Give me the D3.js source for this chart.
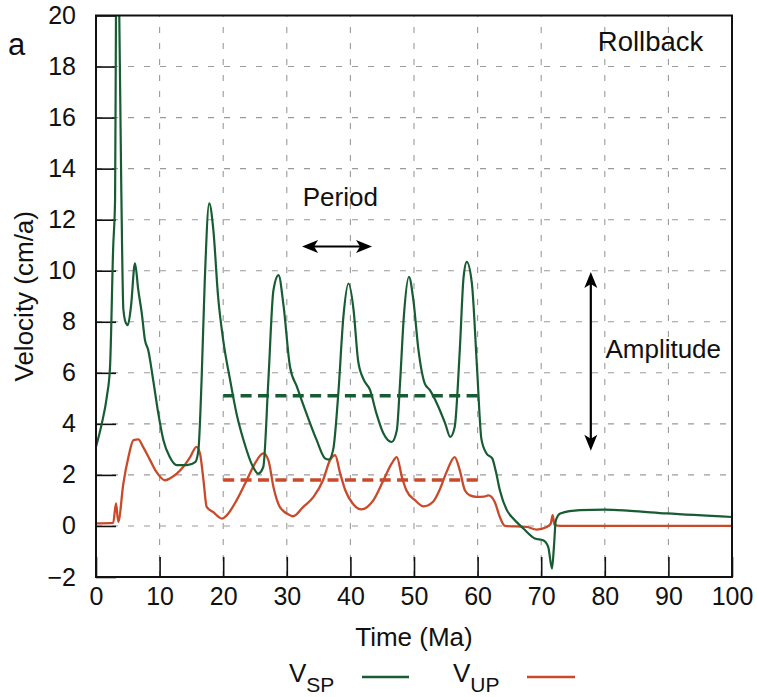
<!DOCTYPE html>
<html>
<head>
<meta charset="utf-8">
<script src="https://cdn.jsdelivr.net/npm/d3@7"></script>
<style>
  html, body { margin: 0; padding: 0; background: #fff; }
  svg { display: block; font-family: "Liberation Sans", Arial, Helvetica, sans-serif; }
</style>
</head>
<body>
<svg id="chart" width="757" height="697"></svg>
<script>
// Spreading-plate velocity V_SP (time in Ma, velocity in cm/a)
const spTime = [0, 0.9, 1.7, 2.2, 2.7, 3.0, 3.14, 3.3, 3.45, 3.55, 3.66, 4.0, 4.3, 4.7, 5.0, 5.5,
  6.13, 6.65, 7.2, 7.7, 8.2, 9.0, 9.8, 10.6, 11.6, 12.7, 14.3, 15.6, 16.1, 16.6, 17.1, 17.8,
  18.45, 19.2, 20.0, 21.1, 22.1, 23.2, 24.7, 25.5, 26.3, 27.1, 27.9, 28.7, 29.5, 30.5, 31.6,
  33.1, 34.7, 36.0, 36.6, 37.3, 38.1, 38.9, 39.7, 40.5, 41.2, 42.0, 43.1, 44.1, 45.2, 46.5,
  47.3, 47.8, 48.4, 49.2, 49.9, 50.7, 51.7, 52.5, 53.6, 54.9, 55.7, 56.4, 57.2, 57.8, 58.3,
  59.1, 59.9, 60.6, 61.4, 62.3, 62.9, 63.5, 64.6, 65.6, 67.2, 69.0, 70.3, 71.1, 71.7, 72.0,
  72.3, 73.0, 76.1, 80.0, 84.0, 89.7, 100];
const spVel = [3.1, 4.0, 5.06, 6.2, 10.9, 12.8, 20, 25, 26, 23.5, 20, 12.8, 8.5, 7.95, 7.87, 8.6,
  10.29, 9.24, 8.33, 7.28, 6.9, 5.7, 4.4, 3.36, 2.7, 2.38, 2.38, 2.5, 2.97, 5.7, 9.6, 12.64,
  11.6, 8.98, 7.28, 5.7, 4.4, 3.36, 2.31, 2.05, 2.31, 5.7, 9.24, 9.83, 8.6, 6.24, 5.45,
  4.4, 3.36, 2.65, 2.6, 3.0, 5.19, 8.2, 9.5, 8.46, 6.5, 5.78, 5.32, 4.4, 3.62, 3.29,
  3.75, 5.58, 8.2, 9.76, 8.85, 6.9, 5.58, 5.32, 4.8, 4.02, 3.49, 3.88, 6.9, 9.76, 10.35,
  9.5, 6.24, 3.4, 2.84, 2.65, 2.1, 1.4, 0.62, 0.29, -0.1, -0.49, -0.56, -0.82, -1.67, -0.82,
  0.22, 0.49, 0.62, 0.64, 0.59, 0.49, 0.35];

// Upper-plate velocity V_UP
const upTime = [0, 2.7, 3.15, 3.5, 4.3, 5.1, 5.9, 6.65, 7.4, 8.5, 9.5, 10.85, 11.6, 12.7, 13.7,
  14.8, 15.8, 16.35, 16.9, 17.4, 18.4, 19.8, 20.8, 22.1, 23.7, 25.0, 26.3, 27.1, 27.9, 28.9,
  30.5, 31.0, 32.6, 34.2, 35.7, 36.8, 37.6, 38.4, 39.2, 40.3, 41.7, 43.6, 45.2, 46.5, 47.3,
  48.1, 48.8, 50.2, 51.5, 53.0, 54.0, 55.1, 56.4, 57.2, 58.0, 58.8, 59.9, 61.0, 61.7, 62.7,
  63.5, 64.3, 67.7, 69.3, 70.9, 71.5, 71.8, 72.1, 73.0, 100];
const upVel = [0.1, 0.12, 0.88, 0.16, 1.66, 2.7, 3.36, 3.39, 3.1, 2.58, 2.12, 1.79, 1.86, 2.05, 2.31,
  2.7, 3.1, 2.84, 1.79, 0.75, 0.55, 0.29, 0.49, 1.0, 1.79, 2.45, 2.84, 2.58, 1.53, 0.75,
  0.42, 0.38, 0.75, 1.14, 1.79, 2.58, 2.77, 2.05, 1.4, 0.9, 0.65, 1.0, 1.79, 2.45, 2.7,
  1.92, 1.4, 1.0, 0.77, 0.95, 1.4, 2.1, 2.7, 2.18, 1.4, 1.2, 1.14, 1.15, 1.2, 0.94,
  0.35, 0.0, -0.04, -0.14, -0.04, 0.09, 0.42, 0.03, 0, 0];

// Mean velocities over the oscillating stage (20–60 Ma)
const meanRange = [20, 60];
const spMean = 5.1;
const upMean = 1.8;

// Axis ticks
const xTicks = [0, 10, 20, 30, 40, 50, 60, 70, 80, 90, 100];
const yTicks = [-2, 0, 2, 4, 6, 8, 10, 12, 14, 16, 18, 20];

// Annotation anchors, in data units
const periodArrow = { t0: 32.4, t1: 43.4, v: 10.95 };
const amplitudeArrow = { t: 77.8, v0: 2.95, v1: 9.95 };

const GREEN = "#175c33";
const RED = "#c94a2a";

const svg = d3.select("#chart");
const plot = { left: 96, right: 732, top: 15.5, bottom: 577 };

const x = d3.scaleLinear().domain([0, 100]).range([plot.left, plot.right]);
const y = d3.scaleLinear().domain([-2, 20]).range([plot.bottom, plot.top]);

svg.append("defs").append("clipPath").attr("id", "plotClip")
  .append("rect")
  .attr("x", plot.left).attr("y", plot.top)
  .attr("width", plot.right - plot.left).attr("height", plot.bottom - plot.top);

// Dashed grid
const grid = svg.append("g").attr("stroke", "#9a9a9a").attr("stroke-width", 1.1)
  .attr("stroke-dasharray", "6,10");
grid.selectAll("line.v").data(xTicks.slice(1, -1)).join("line")
  .attr("x1", d => x(d)).attr("x2", d => x(d))
  .attr("y1", plot.bottom).attr("y2", plot.top);
grid.selectAll("line.h").data(yTicks.slice(1, -1)).join("line")
  .attr("x1", plot.left).attr("x2", plot.right)
  .attr("y1", d => y(d)).attr("y2", d => y(d));

// Axes with inward ticks
const xAxis = svg.append("g").attr("transform", `translate(0,${plot.bottom})`)
  .call(d3.axisBottom(x).tickValues(xTicks).tickSizeInner(-20).tickSizeOuter(0).tickPadding(10));
const yAxis = svg.append("g").attr("transform", `translate(${plot.left},0)`)
  .call(d3.axisLeft(y).tickValues(yTicks).tickSizeInner(-20).tickSizeOuter(0).tickPadding(20));
[xAxis, yAxis].forEach(g => {
  g.select(".domain").remove();
  g.selectAll(".tick line").attr("stroke", "#111").attr("stroke-width", 1.6);
  g.selectAll(".tick text").attr("font-size", 25).attr("fill", "#111")
    .style("font-family", "'Liberation Sans', Arial, sans-serif");
});

// Series lines
const lineGen = d3.line().x(d => x(d[0])).y(d => y(d[1])).curve(d3.curveMonotoneX);
const lines = svg.append("g").attr("clip-path", "url(#plotClip)").attr("fill", "none");

// Mean-level dashed lines: the gap is stretched so both ends finish on a dash
const meanLen = x(meanRange[1]) - x(meanRange[0]);
const dashLen = 11;
const nDash = Math.round((meanLen + 6) / (dashLen + 6));
const gapLen = (meanLen - nDash * dashLen) / (nDash - 1);
[[spMean, GREEN], [upMean, RED]].forEach(([v, c]) => {
  lines.append("line")
    .attr("x1", x(meanRange[0])).attr("x2", x(meanRange[1]))
    .attr("y1", y(v)).attr("y2", y(v))
    .attr("stroke", c).attr("stroke-width", 3.6)
    .attr("stroke-dasharray", `${dashLen},${gapLen}`);
});

lines.append("path")
  .attr("d", lineGen(d3.zip(upTime, upVel)))
  .attr("stroke", RED).attr("stroke-width", 2.3).attr("stroke-linejoin", "round");
lines.append("path")
  .attr("d", lineGen(d3.zip(spTime, spVel)))
  .attr("stroke", GREEN).attr("stroke-width", 2.2).attr("stroke-linejoin", "round");

// Plot border
svg.append("rect")
  .attr("x", plot.left).attr("y", plot.top)
  .attr("width", plot.right - plot.left).attr("height", plot.bottom - plot.top)
  .attr("fill", "none").attr("stroke", "#111").attr("stroke-width", 2);

// Double-headed arrows
function arrowHead(g, tipX, tipY, angle) {
  g.append("path")
    .attr("d", "M0,0 L-16,-6.5 L-12,0 L-16,6.5 Z")
    .attr("transform", `translate(${tipX},${tipY}) rotate(${angle})`)
    .attr("fill", "#000");
}
const ann = svg.append("g");
ann.append("line")
  .attr("x1", x(periodArrow.t0) + 8).attr("x2", x(periodArrow.t1) - 8)
  .attr("y1", y(periodArrow.v)).attr("y2", y(periodArrow.v))
  .attr("stroke", "#000").attr("stroke-width", 2.2);
arrowHead(ann, x(periodArrow.t0), y(periodArrow.v), 180);
arrowHead(ann, x(periodArrow.t1), y(periodArrow.v), 0);

ann.append("line")
  .attr("x1", x(amplitudeArrow.t)).attr("x2", x(amplitudeArrow.t))
  .attr("y1", y(amplitudeArrow.v1) + 8).attr("y2", y(amplitudeArrow.v0) - 8)
  .attr("stroke", "#000").attr("stroke-width", 2.2);
arrowHead(ann, x(amplitudeArrow.t), y(amplitudeArrow.v1), -90);
arrowHead(ann, x(amplitudeArrow.t), y(amplitudeArrow.v0), 90);

// Texts
const txt = svg.append("g").attr("fill", "#111").attr("font-size", 26);
txt.append("text").attr("x", x(78.9)).attr("y", y(18.6)).attr("font-size", 27.5).text("Rollback");
txt.append("text").attr("x", x(32.5)).attr("y", y(12.54)).text("Period");
txt.append("text").attr("x", x(80.1)).attr("y", y(6.6)).text("Amplitude");
txt.append("text").attr("x", 8).attr("y", 55).attr("font-size", 31).text("a");
txt.append("text").attr("x", (plot.left + plot.right) / 2).attr("y", 646)
  .attr("text-anchor", "middle").text("Time (Ma)");
txt.append("text")
  .attr("transform", `translate(33,${(plot.top + plot.bottom) / 2}) rotate(-90)`)
  .attr("text-anchor", "middle").text("Velocity (cm/a)");

// Legend
const legendItems = [
  { main: "V", sub: "SP", color: GREEN, tx: 289, lx: [362, 409] },
  { main: "V", sub: "UP", color: RED, tx: 453, lx: [527, 575] }
];
const legend = svg.append("g");
legendItems.forEach(item => {
  const t = legend.append("text").attr("x", item.tx).attr("y", 682)
    .attr("font-size", 26).attr("fill", "#111");
  t.append("tspan").text(item.main);
  t.append("tspan").attr("dy", 10).attr("font-size", 21).text(item.sub);
  legend.append("line")
    .attr("x1", item.lx[0]).attr("x2", item.lx[1]).attr("y1", 677).attr("y2", 677)
    .attr("stroke", item.color).attr("stroke-width", 2.4);
});
</script>
</body>
</html>
